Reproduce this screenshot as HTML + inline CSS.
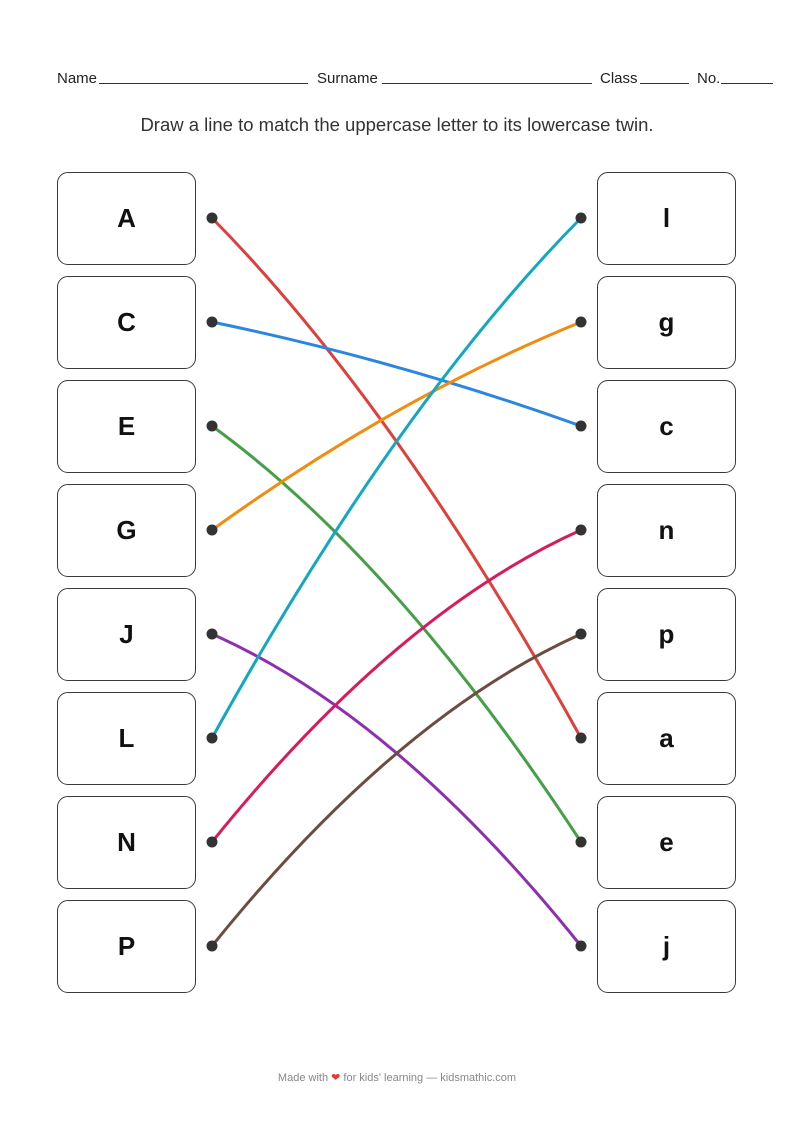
<!DOCTYPE html>
<html><head><meta charset="utf-8"><style>
body{margin:0;width:794px;height:1123px;background:#fff;position:relative;font-family:"Liberation Sans",sans-serif;overflow:hidden}
.hdr{position:absolute;top:70px;font-size:15px;color:#222}
.ln{position:absolute;top:83px;border-top:1px solid #333;height:0}
.title{position:absolute;top:114px;left:0;width:794px;text-align:center;font-size:18.5px;color:#333}
.box{position:absolute;width:139px;height:93px;border:1.5px solid #3a3a3a;border-radius:11px;box-sizing:border-box;display:flex;align-items:center;justify-content:center;font-size:26px;font-weight:bold;color:#111}
.foot{position:absolute;top:1071px;left:0;width:794px;text-align:center;font-size:11px;color:#888}
</style></head><body>
<div class="hdr" style="left:57px">Name</div><div class="ln" style="left:99px;width:209px"></div>
<div class="hdr" style="left:317px">Surname</div><div class="ln" style="left:382px;width:210px"></div>
<div class="hdr" style="left:600px">Class</div><div class="ln" style="left:640px;width:49px"></div>
<div class="hdr" style="left:697px">No.</div><div class="ln" style="left:721px;width:52px"></div>
<div class="title">Draw a line to match the uppercase letter to its lowercase twin.</div>

<div class="box" style="left:57px;top:172px">A</div>
<div class="box" style="left:57px;top:276px">C</div>
<div class="box" style="left:57px;top:380px">E</div>
<div class="box" style="left:57px;top:484px">G</div>
<div class="box" style="left:57px;top:588px">J</div>
<div class="box" style="left:57px;top:692px">L</div>
<div class="box" style="left:57px;top:796px">N</div>
<div class="box" style="left:57px;top:900px">P</div>

<div class="box" style="left:597px;top:172px">l</div>
<div class="box" style="left:597px;top:276px">g</div>
<div class="box" style="left:597px;top:380px">c</div>
<div class="box" style="left:597px;top:484px">n</div>
<div class="box" style="left:597px;top:588px">p</div>
<div class="box" style="left:597px;top:692px">a</div>
<div class="box" style="left:597px;top:796px">e</div>
<div class="box" style="left:597px;top:900px">j</div>

<svg width="794" height="1123" style="position:absolute;left:0;top:0" fill="none" stroke-width="3">
<path d="M212,218 Q396.5,405 581,738" stroke="#e0403a"/>
<path d="M212,322 Q396.5,360 581,426" stroke="#2a86e0"/>
<path d="M212,426 Q396.5,560 581,842" stroke="#43a047"/>
<path d="M212,530 Q396.5,397 581,322" stroke="#f28c0f"/>
<path d="M212,634 Q396.5,716 581,946" stroke="#8e2fb0"/>
<path d="M212,738 Q396.5,405 581,218" stroke="#13a8c2"/>
<path d="M212,842 Q396.5,613 581,530" stroke="#d81b5e"/>
<path d="M212,946 Q396.5,717 581,634" stroke="#6d4c41"/>
<g fill="#333" stroke="none">
<circle cx="212" cy="218" r="5.5"/><circle cx="212" cy="322" r="5.5"/><circle cx="212" cy="426" r="5.5"/><circle cx="212" cy="530" r="5.5"/>
<circle cx="212" cy="634" r="5.5"/><circle cx="212" cy="738" r="5.5"/><circle cx="212" cy="842" r="5.5"/><circle cx="212" cy="946" r="5.5"/>
<circle cx="581" cy="218" r="5.5"/><circle cx="581" cy="322" r="5.5"/><circle cx="581" cy="426" r="5.5"/><circle cx="581" cy="530" r="5.5"/>
<circle cx="581" cy="634" r="5.5"/><circle cx="581" cy="738" r="5.5"/><circle cx="581" cy="842" r="5.5"/><circle cx="581" cy="946" r="5.5"/>
</g>
</svg>
<div class="foot">Made with <span style="color:#e53935">❤</span> for kids' learning — kidsmathic.com</div>
</body></html>
